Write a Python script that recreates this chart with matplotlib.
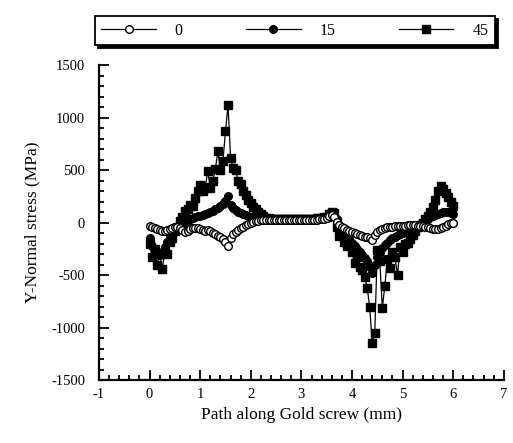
import matplotlib
matplotlib.use("Agg")
import matplotlib.pyplot as plt
import numpy as np
from matplotlib.ticker import MultipleLocator

plt.rcParams['font.family'] = ['Liberation Serif', 'DejaVu Serif']
plt.rcParams['axes.unicode_minus'] = False

# path position (mm), same points for the three series
path = np.linspace(0, 6, 121)

labels = ['0', '15', '45']

s0 = [-30, -40, -50, -60, -70, -80, -80, -70, -60, -50,
      -45, -45, -55, -70, -85, -80, -65, -55, -50, -55,
      -65, -75, -80, -75, -80, -95, -110, -125, -140, -160,
      -185, -220, -150, -110, -90, -70, -55, -40, -25, -10,
      0, 10, 15, 20, 22, 25, 25, 24, 25, 26,
      25, 24, 25, 26, 25, 24, 25, 26, 27, 26,
      25, 26, 27, 26, 25, 26, 28, 30, 32, 35,
      40, 60, 70, 50, 10, -20, -40, -55, -70, -80,
      -90, -100, -110, -120, -130, -135, -140, -150, -165, -120,
      -90, -70, -60, -50, -45, -40, -40, -35, -35, -30,
      -30, -28, -26, -25, -25, -26, -28, -30, -35, -40,
      -45, -55, -60, -65, -60, -50, -40, -30, -15, -5,
      0]

s15 = [-150, -220, -270, -300, -310, -280, -230, -180, -140, -110,
       -80, -60, -40, -20, 0, 15, 30, 40, 50, 60,
       65, 75, 85, 95, 105, 115, 125, 140, 155, 180,
       210, 250, 170, 140, 120, 105, 90, 80, 70, 60,
       50, 45, 40, 35, 32, 30, 31, 29, 30, 31,
       30, 29, 30, 31, 30, 29, 30, 31, 30, 29,
       30, 30, 31, 32, 33, 34, 35, 36, 38, 42,
       50, 80, 95, 80, 30, -20, -60, -100, -130, -160,
       -190, -220, -250, -280, -310, -340, -370, -420, -480, -400,
       -330, -280, -240, -210, -190, -170, -150, -135, -120, -110,
       -100, -90, -80, -70, -55, -40, -25, -10, 5, 20,
       35, 50, 60, 75, 85, 95, 100, 105, 100, 90,
       80]

s45 = [-200, -330, -250, -400, -300, -440, -280, -300, -180, -150,
       -80, -40, 20, 50, 110, 130, 170, 160, 230, 300,
       360, 300, 340, 490, 330, 400, 510, 680, 500, 590,
       870, 1120, 620, 520, 500, 400, 370, 300, 260, 220,
       190, 150, 130, 100, 80, 60, 45, 40, 38, 36,
       35, 36, 37, 36, 35, 36, 37, 38, 37, 36,
       35, 36, 37, 38, 37, 38, 40, 42, 45, 50,
       55, 80, 100, 90, -40, -130, -100, -180, -220, -200,
       -280, -380, -330, -420, -450, -520, -620, -800, -1150, -1050,
       -260, -370, -810, -600, -350, -430, -280, -330, -500, -230,
       -280, -200, -190, -160, -120, -80, -40, -20, 0, 30,
       60, 100, 150, 220, 300, 350, 320, 280, 240, 200,
       160]

fig = plt.figure(figsize=(5.13, 4.43), dpi=100)
ax = fig.add_axes([0.193, 0.142, 0.789, 0.711])

ax.plot(path, s45, color='black', lw=0.9, marker='s', ms=5.5,
        mfc='black', mec='black', label=labels[2], zorder=2)
ax.plot(path, s15, color='black', lw=0.9, marker='o', ms=5.5,
        mfc='black', mec='black', label=labels[1], zorder=3)
ax.plot(path, s0, color='black', lw=0.9, marker='o', ms=5.5,
        mfc='white', mec='black', mew=1.0, label=labels[0], zorder=4)

ax.set_xlim(-1, 7)
ax.set_ylim(-1500, 1500)
ax.xaxis.set_major_locator(MultipleLocator(1))
ax.xaxis.set_minor_locator(MultipleLocator(0.2))
ax.yaxis.set_major_locator(MultipleLocator(500))
ax.yaxis.set_minor_locator(MultipleLocator(100))
ax.tick_params(which='both', direction='in', width=1.3, labelsize=10.5)
ax.tick_params(which='major', length=7)
ax.tick_params(which='minor', length=3.5)
ax.tick_params(axis='y', which='major', pad=10)
ax.tick_params(axis='x', which='major', pad=6)
ax.spines['top'].set_visible(False)
ax.spines['right'].set_visible(False)
ax.spines['left'].set_linewidth(1.6)
ax.spines['bottom'].set_linewidth(1.6)

ax.set_xlabel('Path along Gold screw (mm)', fontsize=12.5)
ax.set_ylabel('Y-Normal stress (MPa)', fontsize=12.5, labelpad=8)

h, l = ax.get_legend_handles_labels()
leg = fig.legend(h[::-1], l[::-1], ncol=3, loc='lower left',
                 bbox_to_anchor=(95/513, 1 - 45/443, 400/513, 37/443),
                 mode='expand', frameon=True, fancybox=False,
                 edgecolor='black', fontsize=11.5, handlelength=3.4,
                 handletextpad=1.2, borderaxespad=0,
                 shadow={'color': 'black', 'alpha': 1})
leg.get_frame().set_linewidth(1.3)

fig.savefig('out.png', dpi=100)
